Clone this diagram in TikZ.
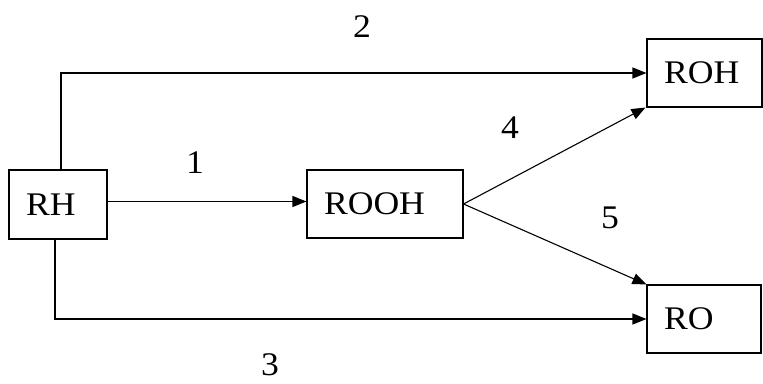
\documentclass[tikz,border=0pt]{standalone}
\usepackage{fontspec}
\setmainfont{Liberation Serif}[FakeStretch=1.08]
\usetikzlibrary{arrows.meta,calc}
\begin{document}
\begin{tikzpicture}[x=1pt,y=-1pt,
  every node/.style={font=\fontsize{33}{38}\selectfont},
  box/.style={draw,line width=1.1pt,anchor=center,inner xsep=17pt,inner ysep=0pt,align=left},
  conn/.style={line width=1.1pt,-{Triangle[length=14pt,width=11pt]}},
  lbl/.style={inner sep=0pt}]
\useasboundingbox (0,0) rectangle (763,383);
\node[box,minimum height=69pt,text width=64pt] (RH) at (58,204.5) {RH};
\node[box,minimum height=68pt,text width=122pt] (ROOH) at (385,204) {ROOH};
\node[box,minimum height=68pt,text width=81pt] (ROH) at (704.5,73) {ROH};
\node[box,minimum height=68pt,text width=80pt] (RO) at (704,319) {RO};
\coordinate (a1) at ($(RH.east)+(0,-3)$);
\draw[conn] (a1) -- (a1 -| ROOH.west);
\draw[conn] ([xshift=3pt]RH.north) |- (ROH.west);
\draw[conn] ([xshift=-3pt]RH.south) |- (RO.west);
\draw[conn] (ROOH.east) -- ([xshift=-1pt]ROH.south west);
\draw[conn] (ROOH.east) -- (RO.north west);
\node[lbl] (l1) at (195,163) {1};
\node[lbl] (l2) at (362,27) {2};
\node[lbl] (l3) at (270,365) {3};
\node[lbl] (l4) at (510,128) {4};
\node[lbl] (l5) at (610,218) {5};
\end{tikzpicture}
\end{document}
